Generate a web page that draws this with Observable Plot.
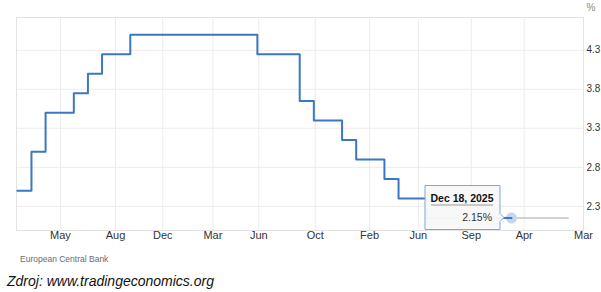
<!DOCTYPE html>
<html>
<head>
<meta charset="utf-8">
<script src="https://cdn.jsdelivr.net/npm/d3@7"></script>
<script src="https://cdn.jsdelivr.net/npm/@observablehq/plot@0.6"></script>
<style>
  html, body { margin: 0; padding: 0; background: #fff; }
  body { width: 601px; height: 292px; position: relative; overflow: hidden; font-family: "Liberation Sans", Arial, sans-serif; }
  #chart { position: absolute; left: 0; top: 0; }
  #source { position: absolute; left: 20px; top: 254px; font-size: 8.5px; color: #6b6b6b; }
  #credit { position: absolute; left: 7px; top: 273px; font-size: 14px; font-style: italic; color: #111; }
</style>
</head>
<body>
<div id="chart"></div>
<div id="source">European Central Bank</div>
<div id="credit">Zdroj: www.tradingeconomics.org</div>
<script>
// ECB main refinancing rate, monthly change points (%)
const months = ["2023-01","2023-02","2023-03","2023-05","2023-06","2023-07","2023-09","2024-06","2024-09","2024-10","2024-12","2025-01","2025-03","2025-04","2025-06","2025-12"];
const rates  = [2.50, 3.00, 3.50, 3.75, 4.00, 4.25, 4.50, 4.25, 3.65, 3.40, 3.15, 2.90, 2.65, 2.40, 2.15, 2.15];
// grey continuation (forecast)
const forecastMonths = ["2025-12","2026-04"];
const forecastRates  = [2.15, 2.15];
// x-axis ticks (month-index positions) and labels
const tickPositions = [2.05, 5.95, 9.3, 12.85, 16.1, 20.1, 23.95, 27.4, 31.15, 34.9, 39.1];
const tickLabels    = ["May","Aug","Dec","Mar","Jun","Oct","Feb","Jun","Sep","Apr","Mar"];
const yTicks = [2.3, 2.8, 3.3, 3.8, 4.3];
const unitLabel = ["%"];
const tipDate = "Dec 18, 2025";
const tipValue = "2.15%";

const monthIndex = s => { const [y, m] = s.split("-").map(Number); return (y - 2023) * 12 + (m - 1) - 1; };
const series = months.map((m, i) => ({x: monthIndex(m), y: rates[i]}));
const forecast = forecastMonths.map((m, i) => ({x: monthIndex(m), y: forecastRates[i]}));
const last = series[series.length - 1];

const blue = "#3a78c2";
const chart = Plot.plot({
  width: 601,
  height: 245,
  marginTop: 17,
  marginBottom: 15,
  marginLeft: 16,
  marginRight: 18,
  style: {fontFamily: "'Liberation Sans', Arial, sans-serif", fontSize: "11px", color: "#333", background: "#fff"},
  x: {domain: [-1.06, 39.1], axis: null},
  y: {domain: [1.99, 4.72], axis: null},
  marks: [
    Plot.ruleX(tickPositions, {stroke: "#ececec", strokeWidth: 1}),
    Plot.ruleY(yTicks, {stroke: "#ececec", strokeWidth: 1}),
    Plot.frame({stroke: "#e3e3e3"}),
    Plot.axisX({anchor: "bottom", label: null, ticks: tickPositions, tickFormat: (d, i) => tickLabels[i], tickSize: 0, tickPadding: 1, fill: "#333"}),
    Plot.axisY({anchor: "right", label: null, ticks: yTicks, tickFormat: d => d.toFixed(1), tickSize: 0, tickPadding: 3, fill: "#333", fontSize: 10}),
    Plot.text(unitLabel, {frameAnchor: "top-right", text: d => d, dx: 12, dy: -14, fill: "#888", fontSize: 10}),
    Plot.line(forecast, {x: "x", y: "y", stroke: "#d2d2d2", strokeWidth: 2}),
    Plot.dot([last], {x: "x", y: "y", r: 5.5, fill: "#c6d5ee", stroke: "none"}),
    Plot.line(series, {x: "x", y: "y", curve: "step-after", stroke: blue, strokeWidth: 2})
  ]
});
document.getElementById("chart").appendChild(chart);

// tooltip anchored at the last data point through the plot scales
const sx = chart.scale("x").apply(last.x);
const sy = chart.scale("y").apply(last.y);
const svg = d3.select(chart);
const g = svg.append("g");
g.append("path")
  .attr("d", `M${sx-86},${sy-32}H${sx-11}V${sy-4}L${sx-7},${sy}L${sx-11},${sy+4}V${sy+12}H${sx-86}Z`)
  .attr("fill", "#f8f8f8").attr("fill-opacity", 0.97)
  .attr("stroke", "#7fa5d8").attr("stroke-width", 1);
g.append("text").attr("x", sx-49).attr("y", sy-15.5)
  .attr("text-anchor", "middle").attr("font-weight", "bold").attr("font-size", 10.5).attr("fill", "#111")
  .text(tipDate);
g.append("line").attr("x1", sx-80).attr("x2", sx-18).attr("y1", sy-12.5).attr("y2", sy-12.5)
  .attr("stroke", "#999").attr("stroke-width", 1);
g.append("text").attr("x", sx-19).attr("y", sy+3.5)
  .attr("text-anchor", "end").attr("font-size", 10.5).attr("fill", "#333")
  .text(tipValue);
</script>
</body>
</html>
